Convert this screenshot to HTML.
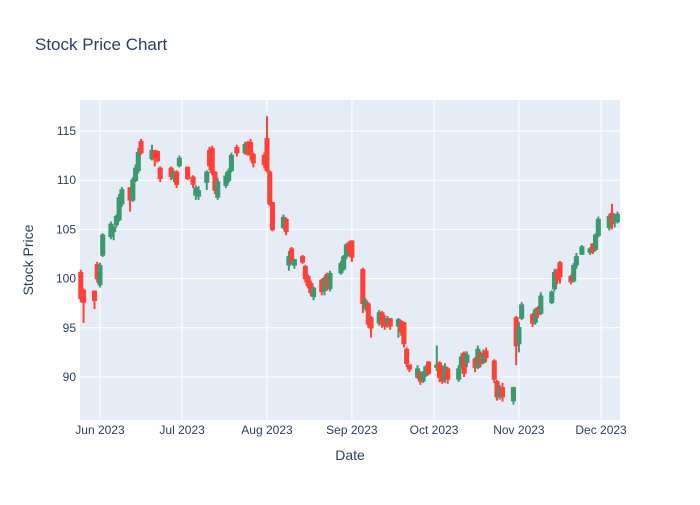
<!DOCTYPE html>
<html><head><meta charset="utf-8"><style>
body{margin:0;background:#fff;font-family:"Liberation Sans",sans-serif}
svg text{font-family:"Liberation Sans",sans-serif;fill:#2a3f5f}
</style></head><body>
<svg id="chart" width="700" height="500">
<rect width="700" height="500" fill="#fff"/>
<text x="35" y="50" font-size="17">Stock Price Chart</text>
<rect x="80" y="100" width="540" height="320" fill="#e5ecf6"/>
<g id="grid"></g><g id="candles"></g><g id="axes"></g>
<text x="350" y="460" font-size="14" text-anchor="middle">Date</text>
<text x="33" y="260" font-size="14" text-anchor="middle" transform="rotate(-90 33 260)">Stock Price</text>
</svg>
<script>
const dates=["2023-05-25","2023-05-26","2023-05-30","2023-05-31","2023-06-01","2023-06-02","2023-06-05","2023-06-06","2023-06-07","2023-06-08","2023-06-09","2023-06-12","2023-06-13","2023-06-14","2023-06-15","2023-06-16","2023-06-20","2023-06-21","2023-06-22","2023-06-23","2023-06-27","2023-06-28","2023-06-29","2023-06-30","2023-07-03","2023-07-05","2023-07-06","2023-07-07","2023-07-10","2023-07-11","2023-07-12","2023-07-13","2023-07-14","2023-07-17","2023-07-18","2023-07-19","2023-07-21","2023-07-24","2023-07-25","2023-07-26","2023-07-27","2023-07-31","2023-08-01","2023-08-02","2023-08-03","2023-08-07","2023-08-08","2023-08-09","2023-08-10","2023-08-11","2023-08-14","2023-08-15","2023-08-16","2023-08-17","2023-08-18","2023-08-21","2023-08-22","2023-08-23","2023-08-24","2023-08-28","2023-08-29","2023-08-30","2023-08-31","2023-09-01","2023-09-05","2023-09-06","2023-09-07","2023-09-08","2023-09-11","2023-09-12","2023-09-13","2023-09-14","2023-09-15","2023-09-18","2023-09-19","2023-09-20","2023-09-21","2023-09-22","2023-09-25","2023-09-26","2023-09-27","2023-09-28","2023-09-29","2023-10-02","2023-10-03","2023-10-04","2023-10-05","2023-10-06","2023-10-10","2023-10-11","2023-10-12","2023-10-13","2023-10-16","2023-10-17","2023-10-18","2023-10-19","2023-10-20","2023-10-23","2023-10-24","2023-10-25","2023-10-26","2023-10-30","2023-10-31","2023-11-01","2023-11-02","2023-11-06","2023-11-07","2023-11-08","2023-11-09","2023-11-13","2023-11-14","2023-11-15","2023-11-16","2023-11-20","2023-11-21","2023-11-22","2023-11-24","2023-11-27","2023-11-28","2023-11-29","2023-11-30","2023-12-04","2023-12-05","2023-12-06","2023-12-07"];
const opens=[100.6,98.8,98.7,101.4,99.4,102.4,104.3,104.8,105.5,106.0,107.6,109.2,108.0,110.0,111.0,113.9,112.2,113.0,112.9,111.2,111.2,110.2,110.8,111.5,111.3,110.3,108.5,108.4,109.8,113.0,113.2,110.8,108.3,109.5,110.0,111.0,113.3,112.8,113.8,113.8,112.6,112.5,114.2,110.8,107.7,105.2,106.0,101.4,103.0,101.4,102.2,101.2,100.2,99.5,98.2,99.8,98.8,100.4,99.0,100.6,101.0,102.3,103.6,103.8,100.9,97.0,97.4,96.0,95.5,96.5,95.8,95.6,95.9,95.2,95.6,95.5,92.8,91.2,90.0,90.4,89.6,90.2,91.5,91.0,91.4,91.0,89.8,90.8,89.8,91.0,92.4,91.5,91.8,91.0,92.4,91.5,92.6,91.6,89.5,88.0,88.9,87.6,96.0,93.4,96.0,96.3,95.6,97.0,96.5,97.6,99.0,100.8,101.6,100.2,99.8,101.4,102.5,102.7,103.5,103.0,104.4,105.2,106.6,105.8,105.8];
const highs=[100.9,99.0,98.8,101.7,101.6,104.6,105.8,105.4,106.5,108.6,109.3,109.3,110.3,111.6,113.3,114.2,113.6,113.0,113.0,111.4,111.4,111.0,111.0,112.5,111.4,110.5,109.5,109.4,111.0,113.4,113.5,110.9,110.2,110.8,111.2,112.8,113.6,113.9,114.0,114.2,112.8,112.8,116.5,111.0,107.8,106.5,106.2,102.8,103.2,102.0,102.4,101.4,100.4,99.8,99.2,100.0,100.3,100.6,100.8,101.8,102.4,103.6,103.8,103.9,101.1,98.0,97.6,96.2,96.8,96.7,96.3,96.2,96.0,96.0,95.8,95.6,93.0,91.3,91.2,90.6,90.6,91.2,91.6,93.2,91.6,91.2,91.4,91.0,91.2,92.4,92.6,92.6,92.0,93.2,92.6,92.8,93.0,91.8,89.7,89.2,89.4,89.0,96.2,95.6,97.6,96.5,97.0,97.2,98.6,98.8,101.0,101.0,101.8,100.4,101.6,102.6,103.4,103.2,103.6,104.6,106.3,106.6,107.6,106.6,106.8];
const lows=[97.6,95.5,96.9,99.6,99.1,102.2,104.0,103.9,105.2,105.8,107.3,106.8,107.8,109.8,110.7,112.6,112.0,111.4,111.8,109.8,110.0,109.8,109.2,111.3,110.0,109.2,108.0,108.0,109.0,111.0,110.5,108.6,108.0,109.2,109.7,110.8,112.4,112.6,112.5,112.0,111.3,111.2,110.8,107.4,104.8,105.0,104.4,100.8,101.5,101.0,101.5,99.6,99.0,98.2,97.8,98.3,98.3,98.8,98.7,100.4,100.8,102.0,102.3,101.7,96.5,96.7,95.0,94.0,95.2,95.0,94.8,95.0,94.8,94.0,94.2,93.0,91.0,90.5,89.8,89.2,89.4,90.0,90.2,90.6,89.5,89.3,89.4,89.3,89.5,90.8,90.0,91.0,90.5,90.8,91.0,91.3,91.5,89.4,87.6,87.7,87.5,87.2,91.2,92.5,95.8,95.1,95.3,96.0,96.3,97.4,98.7,99.4,99.5,99.4,99.6,101.0,102.4,102.4,102.5,102.8,104.2,104.9,105.0,105.2,105.6];
const closes=[98.0,97.6,97.8,100.0,101.3,104.4,105.5,105.2,106.3,108.2,109.0,108.0,110.0,111.2,112.8,112.8,113.0,112.2,112.0,110.2,110.4,110.8,109.6,112.2,110.2,109.6,109.2,108.9,110.8,111.5,110.8,109.0,109.8,110.4,110.9,112.5,112.8,113.6,112.7,112.6,111.8,111.6,111.0,107.6,105.0,106.2,104.8,102.2,101.8,101.9,101.7,100.0,99.3,98.6,99.0,98.7,100.0,99.2,100.5,101.5,102.2,103.4,102.8,102.2,97.5,97.7,95.4,95.0,96.5,95.4,95.2,95.9,95.2,95.8,94.6,93.4,91.4,90.8,90.8,89.6,90.4,91.0,90.4,91.2,90.0,89.6,91.0,89.8,90.8,92.0,90.4,92.2,91.0,92.8,91.4,92.3,92.0,89.8,88.0,88.8,88.0,88.9,93.2,95.0,97.3,95.5,96.8,96.4,98.2,98.6,100.6,99.9,100.2,99.7,101.3,102.2,103.2,103.0,102.8,104.4,106.0,106.3,105.6,106.2,106.5];
const yTicks=[90,95,100,105,110,115];
const xTickDates=["2023-06-01","2023-07-01","2023-08-01","2023-09-01","2023-10-01","2023-11-01","2023-12-01"];
const xTickLabels=["Jun 2023","Jul 2023","Aug 2023","Sep 2023","Oct 2023","Nov 2023","Dec 2023"];

const NS="http://www.w3.org/2000/svg";
const X0=80,X1=620,Y0=100,Y1=420;
const tMin=Date.parse("2023-05-24T17:00:00Z"),tMax=Date.parse("2023-12-07T22:00:00Z");
const vMin=85.63,vMax=118.15;
function xs(d){return X0+(Date.parse(d+"T00:00:00Z")-tMin)/(tMax-tMin)*(X1-X0);}
function ys(v){return Y1-(v-vMin)/(vMax-vMin)*(Y1-Y0);}
function mk(tag,attrs,parent){const e=document.createElementNS(NS,tag);for(const k in attrs)e.setAttribute(k,attrs[k]);parent.appendChild(e);return e;}
const grid=document.getElementById('grid'),axes=document.getElementById('axes'),cg=document.getElementById('candles');
yTicks.forEach(v=>{
  const y=ys(v);
  const l=mk('line',{x1:X0,x2:X1,y1:y,y2:y,stroke:'#fff','stroke-width':1},grid);
  
  
  const t=mk('text',{x:X0-4,y:y+4,'font-size':12,'text-anchor':'end'},axes);
  t.textContent=v;
  
  
});
xTickDates.forEach((d,i)=>{
  const x=xs(d);
  const l=mk('line',{x1:x,x2:x,y1:Y0,y2:Y1,stroke:'#fff','stroke-width':1},grid);
  
  
  const t=mk('text',{x:x,y:434,'font-size':12,'text-anchor':'middle'},axes);
  t.textContent=xTickLabels[i];
  
  
});
dates.forEach((d,i)=>{
  const up=closes[i]>=opens[i];
  const col=up?'#3D9970':'#FF4136';
  const x=xs(d);
  const g=mk('g',{},cg);
  
  
  mk('line',{x1:x,x2:x,y1:ys(highs[i]),y2:ys(lows[i]),stroke:col,'stroke-width':2},g);
  const top=ys(Math.max(opens[i],closes[i])),bot=ys(Math.min(opens[i],closes[i]));
  mk('rect',{x:x-1.8,y:top,width:3.6,height:Math.max(bot-top,1),fill:col,stroke:col,'stroke-width':1.5},g);
});
</script>
</body></html>
